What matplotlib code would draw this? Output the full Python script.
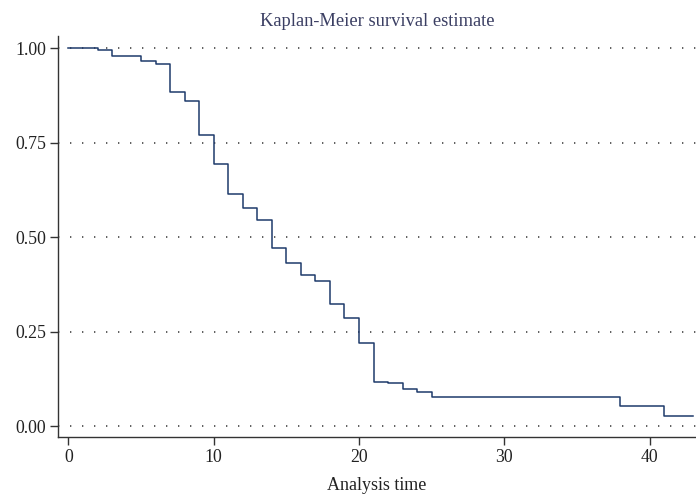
import matplotlib
matplotlib.use("Agg")
import matplotlib.pyplot as plt

# Kaplan-Meier step values
times = [0, 2, 3, 5, 6, 7, 8, 9, 10, 11, 12, 13, 14, 15, 16, 17, 18, 19,
         20, 21, 22, 23, 24, 25, 38, 41, 43]
survival = [1.0, 0.995, 0.980, 0.965, 0.958, 0.884, 0.861, 0.771, 0.694,
            0.613, 0.578, 0.546, 0.472, 0.431, 0.399, 0.384, 0.322, 0.285,
            0.220, 0.117, 0.113, 0.097, 0.091, 0.077, 0.054, 0.026, 0.026]

x_ticks = [0, 10, 20, 30, 40]
y_ticks = [0.0, 0.25, 0.5, 0.75, 1.0]
y_labels = ["0.00", "0.25", "0.50", "0.75", "1.00"]

plt.rcParams['font.family'] = ['Liberation Serif', 'DejaVu Serif']

fig = plt.figure(figsize=(6.96, 4.94), dpi=100)
ax = fig.add_axes([0.0829, 0.116, 0.9171, 0.811])

for yv in y_ticks:
    ax.axhline(yv, color='#444444', linewidth=1.2, linestyle=(0, (0.8, 6.4)), zorder=1)

ax.step(times, survival, where='post', color='#1e3a6b', linewidth=1.1, zorder=3)

ax.set_xlim(-0.74, 43.2)
ax.set_ylim(-0.028, 1.032)
ax.set_xticks(x_ticks)
ax.set_yticks(y_ticks)
ax.set_yticklabels(y_labels)

for side in ['top', 'right']:
    ax.spines[side].set_visible(False)
for side in ['left', 'bottom']:
    ax.spines[side].set_color('#333333')
    ax.spines[side].set_linewidth(1.0)

ax.tick_params(axis='both', direction='out', length=5.5, width=1.0,
               color='#333333', labelsize=12.8, labelcolor='#222222', pad=3)

ax.set_title('Kaplan-Meier survival estimate', fontsize=13.3, color='#3b3f63', pad=7)
ax.set_xlabel('Analysis time', fontsize=13, color='#222222', labelpad=8)

fig.savefig('out.png', dpi=100)
